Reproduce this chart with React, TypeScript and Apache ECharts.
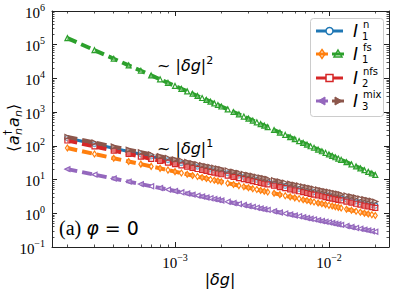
import React, { useEffect, useRef } from "react";
import * as echarts from "echarts";

// |δg| grid (raw values)
const DG = [
  2e-4, 3e-4, 4e-4, 5e-4, 6e-4, 7e-4, 8e-4, 9e-4, 1.0e-3, 1.1e-3, 1.2e-3, 1.3e-3, 1.4e-3, 1.5e-3, 1.6e-3, 1.7e-3, 1.8e-3, 1.9e-3, 2.0e-3,
  2.2e-3, 2.4e-3, 2.6e-3, 2.8e-3, 3.0e-3, 3.2e-3, 3.4e-3, 3.6e-3, 3.8e-3, 4.0e-3,
  4.4e-3, 4.8e-3, 5.2e-3, 5.6e-3, 6.0e-3, 6.4e-3, 6.8e-3, 7.2e-3, 7.6e-3, 8.0e-3,
  8.5e-3, 9.0e-3, 9.5e-3, 1.0e-2, 1.05e-2, 1.1e-2, 1.15e-2, 1.2e-2,
  1.3e-2, 1.4e-2, 1.5e-2, 1.6e-2, 1.7e-2, 1.8e-2, 1.9e-2, 2.0e-2,
];

const I1_N = [
  170, 113, 85, 68, 56.7, 48.6, 42.5, 37.8, 34, 30.9, 28.3, 26.2, 24.3, 22.7, 21.3, 20, 18.9, 17.9, 17,
  15.5, 14.2, 13.1, 12.1, 11.3, 10.6, 10, 9.44, 8.95, 8.5,
  7.73, 7.08, 6.54, 6.07, 5.67, 5.31, 5, 4.72, 4.47, 4.25,
  4, 3.78, 3.58, 3.4, 3.24, 3.09, 2.96, 2.83,
  2.62, 2.43, 2.27, 2.13, 2, 1.89, 1.79, 1.7,
];
const I1_FS_A = [
  86, 57.3, 43, 34.4, 28.7, 24.6, 21.5, 19.1, 17.2, 15.6, 14.3, 13.2, 12.3, 11.5, 10.8, 10.1, 9.56, 9.05, 8.6,
  7.82, 7.17, 6.62, 6.14, 5.73, 5.38, 5.06, 4.78, 4.53, 4.3,
  3.91, 3.58, 3.31, 3.07, 2.87, 2.69, 2.53, 2.39, 2.26, 2.15,
  2.02, 1.91, 1.81, 1.72, 1.64, 1.56, 1.5, 1.43,
  1.32, 1.23, 1.15, 1.08, 1.01, 0.956, 0.905, 0.86,
];
const I1_FS_B = [
  157000, 68900, 38400, 24400, 16900, 12300, 9410, 7410, 5980, 4930, 4130, 3510, 3020, 2630, 2300, 2040, 1820, 1630, 1470,
  1210, 1010, 860, 740, 643, 564, 499, 444, 398, 359,
  296, 248, 211, 181, 158, 138, 122, 109, 97.5, 87.8,
  77.7, 69.2, 62.0, 55.8, 50.6, 46.0, 42.0, 38.6,
  32.8, 28.2, 24.5, 21.5, 19.0, 16.9, 15.2, 13.7,
];
const I2_NFS = [
  144, 96, 72, 57.6, 48, 41.1, 36, 32, 28.8, 26.2, 24, 22.2, 20.6, 19.2, 18, 16.9, 16, 15.2, 14.4,
  13.1, 12, 11.1, 10.3, 9.6, 9, 8.47, 8, 7.58, 7.2,
  6.55, 6, 5.54, 5.14, 4.8, 4.5, 4.24, 4, 3.79, 3.6,
  3.39, 3.2, 3.03, 2.88, 2.74, 2.62, 2.5, 2.4,
  2.22, 2.06, 1.92, 1.8, 1.69, 1.6, 1.52, 1.44,
];
const I3_MIX_A = [
  20.4, 14.0, 10.7, 8.70, 7.34, 6.36, 5.62, 5.04, 4.57, 4.18, 3.85, 3.58, 3.34, 3.13, 2.95, 2.79, 2.64, 2.51, 2.40,
  2.19, 2.02, 1.88, 1.75, 1.64, 1.55, 1.46, 1.39, 1.32, 1.26,
  1.15, 1.06, 0.985, 0.920, 0.863, 0.813, 0.768, 0.728, 0.692, 0.660,
  0.624, 0.592, 0.563, 0.537, 0.513, 0.491, 0.471, 0.453,
  0.420, 0.392, 0.368, 0.347, 0.328, 0.311, 0.295, 0.282,
];
const I3_MIX_B = [
  185, 125, 95.1, 76.8, 64.5, 55.6, 48.9, 43.7, 39.5, 36.0, 33.1, 30.7, 28.6, 26.7, 25.1, 23.7, 22.4, 21.3, 20.3,
  18.5, 17.0, 15.8, 14.7, 13.7, 12.9, 12.2, 11.5, 11.0, 10.4,
  9.52, 8.75, 8.11, 7.55, 7.07, 6.64, 6.27, 5.93, 5.63, 5.36,
  5.06, 4.79, 4.55, 4.33, 4.13, 3.95, 3.78, 3.63,
  3.36, 3.13, 2.93, 2.76, 2.60, 2.46, 2.34, 2.22,
];

const X_MAJOR_EXP = [-3, -2];
const Y_MAJOR_EXP = [-1, 0, 1, 2, 3, 4, 5, 6];
const MINOR_MULT = [2, 3, 4, 5, 6, 7, 8, 9];

const X_MIN = -3.799;
const X_MAX = -1.61;
const Y_MIN = -1;
const Y_MAX = 6;

const C = {
  blue: "#1f77b4",
  orange: "#ff7f0e",
  green: "#2ca02c",
  red: "#d62728",
  purple: "#9467bd",
  brown: "#8c564b",
};
const AX = "#222";

function minorTicks(lo: number, hi: number) {
  const out: number[] = [];
  for (let e = Math.floor(lo) - 1; e <= Math.ceil(hi); e++) {
    for (const m of MINOR_MULT) {
      const v = e + Math.log10(m);
      if (v > lo && v < hi) out.push(v);
    }
  }
  return out;
}

const tickRich = {
  b: { fontFamily: "Liberation Serif", fontSize: 15, color: "#000", verticalAlign: "bottom", lineHeight: 18 },
  s: { fontFamily: "Liberation Serif", fontSize: 10, color: "#000", verticalAlign: "top", lineHeight: 10 },
};
const tickFmt = (v: number) => {
  const e = Math.round(v);
  return `{b|10}{s|${e < 0 ? "\u2212" + -e : e}}`;
};

function makeAxes(kind: "x" | "y") {
  const isX = kind === "x";
  const min = isX ? X_MIN : Y_MIN;
  const max = isX ? X_MAX : Y_MAX;
  const major = isX ? X_MAJOR_EXP : Y_MAJOR_EXP;
  const minor = minorTicks(min, max);
  const sides = isX ? ["bottom", "top"] : ["left", "right"];
  const axes: any[] = [];
  sides.forEach((pos, si) => {
    axes.push({
      type: "value",
      position: pos,
      min,
      max,
      silent: true,
      splitLine: { show: false },
      axisLine: { show: true, onZero: false, lineStyle: { color: AX, width: 1 } },
      axisTick: { show: true, inside: true, length: 5, customValues: major, lineStyle: { color: AX, width: 1 } },
      axisLabel: si === 0
        ? { show: true, customValues: major, formatter: tickFmt, rich: tickRich, margin: isX ? 5 : 7 }
        : { show: false },
    });
    axes.push({
      type: "value",
      position: pos,
      min,
      max,
      silent: true,
      splitLine: { show: false },
      axisLine: { show: false, onZero: false },
      axisTick: { show: true, inside: true, length: 2.5, customValues: minor, lineStyle: { color: AX, width: 0.8 } },
      axisLabel: { show: false },
    });
  });
  return axes;
}

const toPts = (ys: number[]) => DG.map((x, i) => [Math.log10(x), Math.log10(ys[i])]);

const SERIES = [
  { name: "I1n", data: I1_N, color: C.blue, symbol: "circle", size: 5, rot: 0, dashed: false },
  { name: "I1fsA", data: I1_FS_A, color: C.orange, symbol: "diamond", size: [4, 6], rot: 0, dashed: true },
  { name: "I1fsB", data: I1_FS_B, color: C.green, symbol: "triangle", size: 5, rot: 0, dashed: true },
  { name: "I2nfs", data: I2_NFS, color: C.red, symbol: "rect", size: 5, rot: 0, dashed: true },
  { name: "I3mixA", data: I3_MIX_A, color: C.purple, symbol: "triangle", size: 5, rot: 90, dashed: true },
  { name: "I3mixB", data: I3_MIX_B, color: C.brown, symbol: "triangle", size: 5, rot: -90, dashed: true },
];

const LEGEND_ROWS = [
  { sup: "n", sub: "1" },
  { sup: "fs", sub: "1" },
  { sup: "nfs", sub: "2" },
  { sup: "mix", sub: "3" },
];

function legendGraphics() {
  const els: any[] = [];
  const rowY = [31, 54, 78, 101];
  els.push({
    type: "rect",
    shape: { x: 310.5, y: 18.5, width: 73, height: 98, r: 3 },
    style: { fill: "rgba(255,255,255,0.85)", stroke: "#cccccc", lineWidth: 1 },
    z: 100,
  });
  const ln = (x1: number, x2: number, y: number, color: string) => ({
    type: "line",
    shape: { x1, y1: y, x2, y2: y },
    style: { stroke: color, lineWidth: 3 },
    z: 101,
  });
  // row 1
  els.push(ln(316, 343, rowY[0], C.blue));
  els.push({ type: "circle", shape: { cx: 329.5, cy: rowY[0], r: 3.5 }, style: { fill: "#fff", stroke: C.blue, lineWidth: 1.5 }, z: 102 });
  // row 2
  els.push(ln(316, 328, rowY[1], C.orange));
  els.push({ type: "polygon", shape: { points: [[322, rowY[1] - 4.5], [325, rowY[1]], [322, rowY[1] + 4.5], [319, rowY[1]]] }, style: { fill: "none", stroke: C.orange, lineWidth: 1.5 }, z: 102 });
  els.push(ln(332, 344, rowY[1], C.green));
  els.push({ type: "polygon", shape: { points: [[338, rowY[1] - 4], [342, rowY[1] + 3], [334, rowY[1] + 3]] }, style: { fill: "none", stroke: C.green, lineWidth: 1.5 }, z: 102 });
  // row 3
  els.push(ln(316, 343, rowY[2], C.red));
  els.push({ type: "rect", shape: { x: 326, y: rowY[2] - 3.5, width: 7, height: 7 }, style: { fill: "#fff", stroke: C.red, lineWidth: 1.5 }, z: 102 });
  // row 4
  els.push(ln(316, 328, rowY[3], C.purple));
  els.push({ type: "polygon", shape: { points: [[318, rowY[3]], [325, rowY[3] - 4], [325, rowY[3] + 4]] }, style: { fill: C.purple, stroke: C.purple, lineWidth: 1 }, z: 102 });
  els.push(ln(332, 344, rowY[3], C.brown));
  els.push({ type: "polygon", shape: { points: [[342, rowY[3]], [335, rowY[3] - 4], [335, rowY[3] + 4]] }, style: { fill: C.brown, stroke: C.brown, lineWidth: 1 }, z: 102 });
  LEGEND_ROWS.forEach((r, i) => {
    const y = rowY[i];
    els.push({ type: "text", x: 353, y, z: 103, style: { text: "I", font: "italic 17px 'DejaVu Sans'", fill: "#000", align: "left", verticalAlign: "middle" } });
    els.push({
      type: "text", x: 362, y: y - 0.5, z: 103,
      style: {
        text: `{p|${r.sup}}\n{q|${r.sub}}`,
        rich: {
          p: { fontFamily: "DejaVu Sans", fontSize: 10, lineHeight: 12, fill: "#000", padding: [0, 0, 0, 1] },
          q: { fontFamily: "DejaVu Sans", fontSize: 10, lineHeight: 12, fill: "#000" },
        },
        align: "left", verticalAlign: "middle",
      },
    });
  });
  return els;
}

function textGraphics() {
  const els: any[] = [];
  const mathRich = {
    n: { fontFamily: "DejaVu Sans", fontSize: 16, fill: "#000", verticalAlign: "bottom", lineHeight: 19 },
    i: { fontFamily: "DejaVu Sans", fontStyle: "italic", fontSize: 16, fill: "#000", verticalAlign: "bottom", lineHeight: 19 },
    s: { fontFamily: "DejaVu Sans", fontSize: 11, fill: "#000", verticalAlign: "top", lineHeight: 11 },
  };
  els.push({ type: "text", x: 157, y: 64, style: { text: "{n|~ |}{i|δg}{n||}{s|2}", rich: mathRich, align: "left", verticalAlign: "middle" } });
  els.push({ type: "text", x: 157, y: 147, style: { text: "{n|~ |}{i|δg}{n||}{s|1}", rich: mathRich, align: "left", verticalAlign: "middle" } });
  // panel label
  els.push({
    type: "text", x: 59, y: 228,
    style: {
      text: "{a|(a) }{i|φ}{n| = 0}",
      rich: {
        a: { fontFamily: "Liberation Serif", fontSize: 20, fill: "#000" },
        i: { fontFamily: "DejaVu Sans", fontStyle: "italic", fontSize: 19, fill: "#000" },
        n: { fontFamily: "DejaVu Sans", fontSize: 19, fill: "#000" },
      },
      align: "left", verticalAlign: "middle",
    },
  });
  // x title
  els.push({
    type: "text", x: 220, y: 279,
    style: {
      text: "{n||}{i|δg}{n||}",
      rich: {
        n: { fontFamily: "DejaVu Sans", fontSize: 16, fill: "#000" },
        i: { fontFamily: "DejaVu Sans", fontStyle: "italic", fontSize: 16, fill: "#000" },
      },
      align: "center", verticalAlign: "middle",
    },
  });
  // y title (rotated)
  const f = (t: string, x: number, y: number, size: number, italic: boolean) => ({
    type: "text", x, y,
    style: { text: t, font: `${italic ? "italic " : ""}${size}px 'DejaVu Sans'`, fill: "#000", align: "left", verticalAlign: "middle" },
  });
  els.push({
    type: "group",
    x: 13,
    y: 152,
    rotation: Math.PI / 2,
    children: [
      f("\u27E8", 0, 0, 16, false),
      f("a", 7, 0, 16, true),
      f("\u2020", 17, -6, 10, false),
      f("n", 17, 5, 11, true),
      f("a", 25, 0, 16, true),
      f("n", 35, 5, 11, true),
      f("\u27E9", 42, 0, 16, false),
    ],
  });
  return els;
}

export default function App() {
  const ref = useRef<HTMLDivElement>(null);
  useEffect(() => {
    if (!ref.current) return;
    const chart = echarts.init(ref.current, undefined, { renderer: "svg" });
    const option: any = {
      animation: false,
      backgroundColor: "#fff",
      grid: { left: 52, top: 11, right: 18, bottom: 44, containLabel: false },
      xAxis: makeAxes("x"),
      yAxis: makeAxes("y"),
      series: SERIES.map((s, i) => ({
        type: "line",
        name: s.name,
        data: toPts(s.data),
        xAxisIndex: 0,
        yAxisIndex: 0,
        silent: true,
        symbol: s.symbol,
        symbolSize: s.size,
        symbolRotate: s.rot,
        showSymbol: true,
        showAllSymbol: true,
        z: 2 + i,
        lineStyle: { color: s.color, width: s.dashed ? 4 : 3, type: s.dashed ? [10, 5] : "solid" },
        itemStyle: { color: "rgba(255,255,255,0.35)", borderColor: s.color, borderWidth: 1.2 },
        emphasis: { disabled: true },
      })),
      graphic: [...textGraphics(), ...legendGraphics()],
    };
    chart.setOption(option);
    return () => chart.dispose();
  }, []);
  return <div ref={ref} style={{ position: "fixed", left: 0, top: 0, width: 407, height: 291 }} />;
}
